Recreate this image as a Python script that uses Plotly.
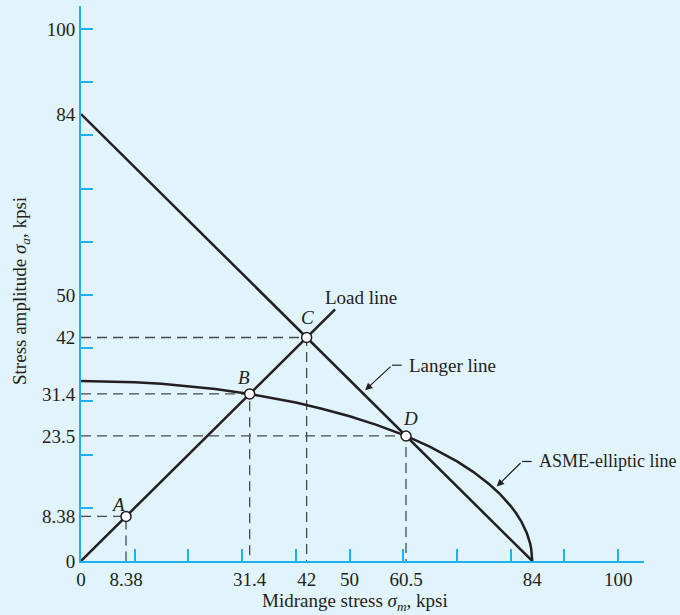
import plotly.graph_objects as go

# ---- data ----
langer_x = [0, 84]
langer_y = [84, 0]
load_x = [0, 47.3]
load_y = [0, 47.3]
ellipse_x = [0, 5, 10, 15, 20, 25, 31.4, 35, 40, 45, 50, 55, 60.5, 65, 70, 73, 76, 78, 80, 81, 82, 83, 83.3, 83.6, 83.8, 83.9, 84]
ellipse_y = [33.85, 33.79, 33.61, 33.31, 32.88, 32.32, 31.4, 30.77, 29.77, 28.58, 27.20, 25.59, 23.5, 21.44,
             18.71, 16.75, 14.42, 12.56, 10.32, 8.97, 7.34, 5.21, 4.36, 3.30, 2.33, 1.65, 0]
pt_names = ["A", "B", "C", "D"]
pt_x = [8.38, 31.4, 42, 60.5]
pt_y = [8.38, 31.4, 42, 23.5]
xlabel_vals = [0, 8.38, 31.4, 42, 50, 60.5, 84, 100]
xlabel_text = ["0", "8.38", "31.4", "42", "50", "60.5", "84", "100"]
ylabel_vals = [0, 8.38, 23.5, 31.4, 42, 50, 84, 100]
ylabel_text = ["0", "8.38", "23.5", "31.4", "42", "50", "84", "100"]
tick_marks = [10, 20, 30, 40, 50, 60, 70, 80, 90, 100]

BG = "#E1F3FB"
AX = "#1CB3EC"
INK = "#231F20"
DASH = "#4A4A4A"
FONT = "Liberation Serif"
FS = 19

fig = go.Figure()

# dashed guide lines
for x, y in zip(pt_x, pt_y):
    fig.add_trace(go.Scatter(x=[0, x, x], y=[y, y, 0], mode="lines",
                             line=dict(color=DASH, width=1.3, dash="10px,6px"),
                             hoverinfo="skip", showlegend=False))

fig.add_trace(go.Scatter(x=langer_x, y=langer_y, mode="lines",
                         line=dict(color=INK, width=2.5), showlegend=False))
fig.add_trace(go.Scatter(x=load_x, y=load_y, mode="lines",
                         line=dict(color=INK, width=2.5), showlegend=False))
fig.add_trace(go.Scatter(x=ellipse_x, y=ellipse_y, mode="lines",
                         line=dict(color=INK, width=2.5), showlegend=False))
fig.add_trace(go.Scatter(x=pt_x, y=pt_y, mode="markers",
                         marker=dict(size=10, color="white", line=dict(color=INK, width=1.5)),
                         showlegend=False))

# tick-mark overlay axes
fig.add_trace(go.Scatter(x=[0], y=[0], xaxis="x2", yaxis="y2", mode="markers",
                         marker=dict(opacity=0), hoverinfo="skip", showlegend=False))

letter_off = [(-1.5, 2.2), (-1.0, 3.0), (0.1, 3.7), (0.8, 3.2)]
for n, x, y, (dx, dy) in zip(pt_names, pt_x, pt_y, letter_off):
    fig.add_annotation(x=x + dx, y=y + dy, text=f"<i>{n}</i>", showarrow=False,
                       font=dict(family=FONT, size=FS, color=INK))

fig.add_annotation(x=45.1, y=49.6, text="Load line", showarrow=False, xanchor="left",
                   font=dict(family=FONT, size=FS, color=INK))

# Langer line leader
fig.add_annotation(x=52.9, y=32.1, ax=57.9, ay=36.8, axref="x", ayref="y", text="",
                   showarrow=True, arrowhead=2, arrowsize=1.2, arrowwidth=1.2, arrowcolor=INK)
fig.add_shape(type="line", x0=57.9, y0=36.8, x1=59.7, y1=36.8, line=dict(color=INK, width=1.2))
fig.add_annotation(x=60.7, y=36.8, text="Langer line", showarrow=False, xanchor="left",
                   font=dict(family=FONT, size=FS, color=INK))

# ASME leader
fig.add_annotation(x=77.4, y=14.0, ax=82.1, ay=18.7, axref="x", ayref="y", text="",
                   showarrow=True, arrowhead=2, arrowsize=1.2, arrowwidth=1.2, arrowcolor=INK)
fig.add_shape(type="line", x0=82.1, y0=18.7, x1=83.9, y1=18.7, line=dict(color=INK, width=1.2))
fig.add_annotation(x=84.8, y=18.7, text="ASME-elliptic line", showarrow=False, xanchor="left",
                   font=dict(family=FONT, size=18, color=INK))

# axis titles
fig.add_annotation(xref="paper", yref="paper", x=0.4867, y=-0.074, yanchor="middle",
                   text="Midrange stress <i>σ<sub>m</sub></i>, kpsi", showarrow=False,
                   font=dict(family=FONT, size=FS, color=INK))
fig.add_annotation(xref="paper", yref="paper", x=-0.1066, y=0.4865, xanchor="center",
                   textangle=-90, text="Stress amplitude <i>σ<sub>a</sub></i>, kpsi",
                   showarrow=False, font=dict(family=FONT, size=FS, color=INK))

XR = [0, 104.8]
YR = [0, 104.3]
tickfont = dict(family=FONT, size=FS, color=INK)

fig.update_layout(
    width=680, height=615,
    margin=dict(l=81, r=36, t=6, b=54),
    paper_bgcolor=BG, plot_bgcolor=BG,
    showlegend=False,
    xaxis=dict(range=XR, tickvals=xlabel_vals, ticktext=xlabel_text, ticks="",
               showgrid=False, zeroline=False, showline=True, linecolor=AX, linewidth=2,
               tickfont=tickfont, automargin=False),
    yaxis=dict(range=YR, tickvals=ylabel_vals, ticktext=ylabel_text, ticks="",
               showgrid=False, zeroline=False, showline=True, linecolor=AX, linewidth=2,
               tickfont=tickfont, automargin=False),
    xaxis2=dict(range=XR, overlaying="x", anchor="y2", side="bottom", tickvals=tick_marks,
                ticks="inside", ticklen=12, tickwidth=2, tickcolor=AX, showticklabels=False,
                showgrid=False, zeroline=False, showline=False, automargin=False),
    yaxis2=dict(range=YR, overlaying="y", anchor="x2", side="left", tickvals=tick_marks,
                ticks="inside", ticklen=12, tickwidth=2, tickcolor=AX, showticklabels=False,
                showgrid=False, zeroline=False, showline=False, automargin=False),
)

fig.write_html("out.html", config={"displayModeBar": False},
               post_script="document.body.style.margin='0';document.body.style.overflow='hidden';")
